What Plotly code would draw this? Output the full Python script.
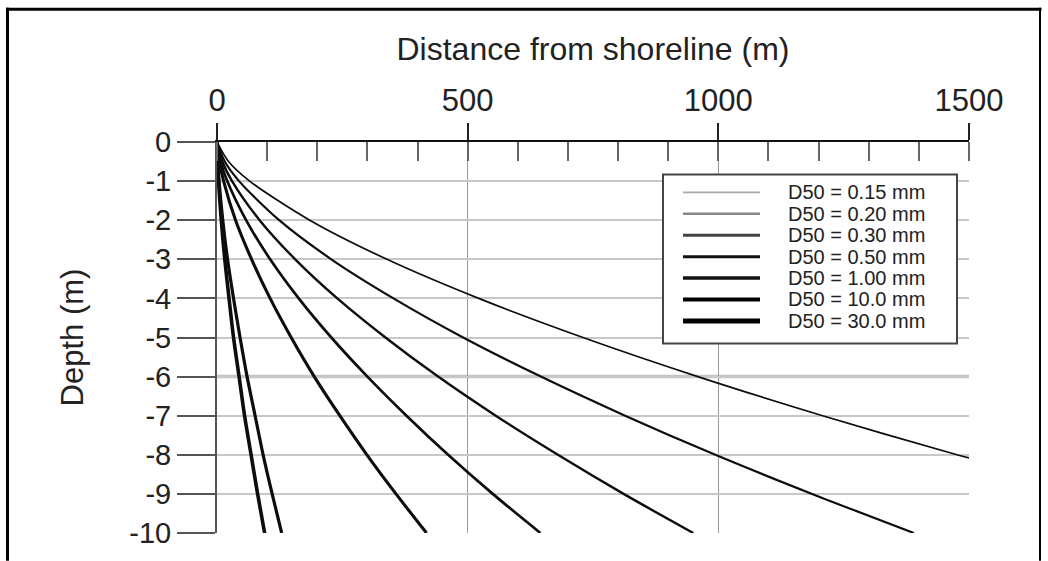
import plotly.graph_objects as go

# Equilibrium beach profiles: depth vs distance from the shoreline for several grain sizes
DEPTH = [0, -0.5, -1, -2, -3, -4, -5, -6, -7, -8, -9, -10]
DEPTH_015 = [0, -0.5, -1, -2, -3, -4, -5, -6, -7, -8, -8.08]

X_D015 = [0, 23, 65, 185, 339, 522, 730, 959, 1208, 1476, 1500]
X_D020 = [0, 15.5, 44, 124, 228, 352, 491, 646, 814, 994, 1187, 1390]
X_D030 = [0, 10.6, 30, 85, 156, 240, 336, 441, 556, 680, 811, 950]
X_D050 = [0, 7.2, 20.4, 58, 106, 163, 228, 300, 378, 461, 550, 645]
X_D100 = [0, 4.7, 13.2, 37, 69, 106, 148, 194, 245, 299, 357, 418]
X_D1000 = [0, 1.4, 4.1, 11.5, 21, 33, 46, 60, 76, 92, 110, 129]
X_D3000 = [0, 1.06, 3.0, 8.5, 15.5, 24, 33, 44, 55, 68, 81, 95]

LABELS = ["D50 = 0.15 mm", "D50 = 0.20 mm", "D50 = 0.30 mm", "D50 = 0.50 mm",
          "D50 = 1.00 mm", "D50 = 10.0 mm", "D50 = 30.0 mm"]

X_TICKS = [0, 500, 1000, 1500]
Y_TICKS = [0, -1, -2, -3, -4, -5, -6, -7, -8, -9, -10]
Y_TICK_TEXT = ["0", "-1", "-2", "-3", "-4", "-5", "-6", "-7", "-8", "-9", "-10"]

series = [
    (X_D015, DEPTH_015),
    (X_D020, DEPTH),
    (X_D030, DEPTH),
    (X_D050, DEPTH),
    (X_D100, DEPTH),
    (X_D1000, DEPTH),
    (X_D3000, DEPTH),
]

# styling
CURVE_WIDTHS = [1.7, 2.2, 2.4, 2.7, 3.1, 3.2, 3.6]
KEY_COLORS = ["#a8a8a8", "#888888", "#444444", "#111111", "#111111", "#000000", "#000000"]
KEY_WIDTHS = [1.6, 2.5, 3.0, 3.0, 3.5, 4.0, 5.0]
FONT = "Liberation Sans, Arial, sans-serif"

W, H = 1048, 561
L, R, T, B = 217, 79, 142, 23
PW, PH = W - L - R, H - T - B


def px(xp):
    return (xp - L) / PW


def py(yp):
    return (H - B - yp) / PH


fig = go.Figure()

for (xs, ys), lw in zip(series, CURVE_WIDTHS):
    fig.add_trace(go.Scatter(
        x=xs, y=ys, mode="lines",
        line=dict(color="#0d0d0d", width=lw, shape="spline", smoothing=0.8),
        showlegend=False, hoverinfo="skip",
    ))

shapes = []
annotations = []

# emphasised grid line at -6 m
shapes.append(dict(type="line", xref="paper", yref="y", x0=0, x1=1, y0=Y_TICKS[6], y1=Y_TICKS[6],
                   line=dict(color="#c4c4c4", width=3.5), layer="below"))

# key box
shapes.append(dict(type="rect", xref="paper", yref="paper",
                   x0=px(663), x1=px(957), y0=py(346), y1=py(175),
                   line=dict(color="#444444", width=2), fillcolor="white", layer="above"))
for i, (lab, col, kw) in enumerate(zip(LABELS, KEY_COLORS, KEY_WIDTHS)):
    yy = 193 + i * 21.7
    shapes.append(dict(type="line", xref="paper", yref="paper",
                       x0=px(683), x1=px(760), y0=py(yy), y1=py(yy),
                       line=dict(color=col, width=kw), layer="above"))
    annotations.append(dict(xref="paper", yref="paper", x=px(786), y=py(yy),
                            text=lab, showarrow=False, xanchor="left", yanchor="middle",
                            font=dict(family=FONT, size=20, color="#222222")))

# page frame
shapes.append(dict(type="line", xref="paper", yref="paper", x0=px(7.5), x1=px(7.5),
                   y0=py(6), y1=py(H + 5), line=dict(color="black", width=3)))
shapes.append(dict(type="line", xref="paper", yref="paper", x0=px(6), x1=px(1041.5),
                   y0=py(7.5), y1=py(7.5), line=dict(color="black", width=3)))
shapes.append(dict(type="line", xref="paper", yref="paper", x0=px(1040), x1=px(1040),
                   y0=py(6), y1=py(H + 5), line=dict(color="black", width=2)))

fig.update_layout(
    width=W, height=H, autosize=False,
    margin=dict(l=L, r=R, t=T, b=B, pad=0),
    paper_bgcolor="white", plot_bgcolor="white",
    font=dict(family=FONT, color="#222222"),
    shapes=shapes, annotations=annotations,
    showlegend=False,
)

fig.update_xaxes(
    side="top", range=[0, 1500], tickvals=X_TICKS,
    ticks="outside", ticklen=17, tickwidth=2, tickcolor="#222222",
    showline=True, linecolor="#111111", linewidth=2,
    showgrid=True, gridcolor="#9a9a9a", gridwidth=1, zeroline=False,
    tickfont=dict(family=FONT, size=31, color="#222222"),
    title=dict(text="Distance from shoreline (m)", font=dict(family=FONT, size=32, color="#222222"),
               standoff=12),
    minor=dict(dtick=100, ticks="inside", ticklen=19, tickwidth=2, tickcolor="#666666", showgrid=False),
)

fig.update_yaxes(
    range=[-10, 0], tickvals=Y_TICKS, ticktext=Y_TICK_TEXT,
    ticks="outside", ticklen=38, tickwidth=2, tickcolor="#555555",
    showline=True, linecolor="#555555", linewidth=2,
    showgrid=True, gridcolor="#c8c8c8", gridwidth=1.5, zeroline=False,
    tickfont=dict(family=FONT, size=29, color="#222222"),
    title=dict(text="Depth (m)", font=dict(family=FONT, size=31, color="#222222"), standoff=36),
)

fig.write_html("out.html")
